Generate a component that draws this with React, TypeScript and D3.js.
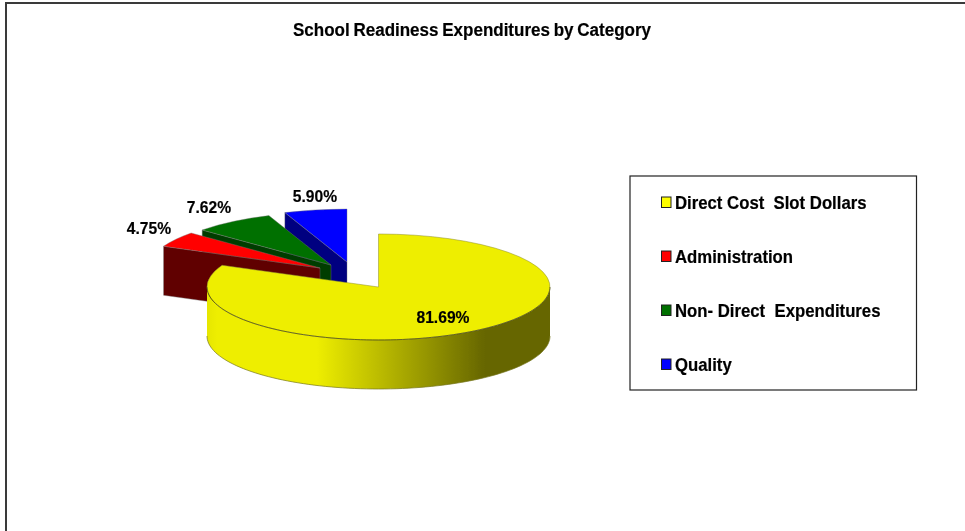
import * as d3 from "d3"

const categories = ["Direct Cost  Slot Dollars", "Administration", "Non- Direct  Expenditures", "Quality"]
const shares = [81.69, 4.75, 7.62, 5.9]
const topColors = ["#eeee00", "#ff0000", "#007000", "#0000ff"]
const legendColors = ["#ffff00", "#ff0000", "#007000", "#0000ff"]
const wallColors = ["#eeee00", "#600000", "#003c00", "#000080"]

// layout, not data
const W = 965, H = 531
const RX = 171.5, RY = 53, DEPTH = 49
const CX = 378.5, CY = 287
const explode: [number, number][] = [[0, 0], [-58.5, -19], [-47.5, -22], [-31.5, -25]]
const labelPos: [number, number][] = [[443, 317], [149, 228], [209, 207], [315, 196]]
const FONT = "'Liberation Sans', Arial, sans-serif"

const slices = d3.pie<number>().sort(null).startAngle(0).endAngle(2 * Math.PI)(shares)
const arc = d3.arc<d3.PieArcDatum<number>>().innerRadius(0).outerRadius(RX)
const px = (a: number) => RX * Math.sin(a)
const py = (a: number) => -RY * Math.cos(a)

// outer rim of the big slice, front half of the ellipse only
const rimAngles = d3.range(Math.PI / 2, (3 * Math.PI) / 2 + 0.001, Math.PI / 90)
const rim = d3.area<number>().x(a => CX + px(a)).y0(a => CY + py(a)).y1(a => CY + py(a) + DEPTH)(rimAngles)!
const rimEdge = d3.line<number>().x(a => CX + px(a)).y(a => CY + py(a))(rimAngles)!
const rimBottom = d3.line<number>().x(a => CX + px(a)).y(a => CY + py(a) + DEPTH)(rimAngles)!

const legendY = d3.scalePoint<string>().domain(categories).range([203, 365])

export default function App() {
  const order = [3, 2, 1]
  return (
    <svg width={W} height={H} viewBox={`0 0 ${W} ${H}`} style={{ position: "absolute", left: 0, top: 0, background: "#fff" }} fontFamily={FONT} fontWeight={700}>
      <defs>
        <linearGradient id="rimFill" gradientUnits="userSpaceOnUse" x1={CX - RX} x2={CX + RX} y1={0} y2={0}>
          <stop offset="0" stopColor="#e6e600" />
          <stop offset="0.03" stopColor="#eeee00" />
          <stop offset="0.32" stopColor="#eeee00" />
          <stop offset="0.81" stopColor="#666600" />
          <stop offset="1" stopColor="#666600" />
        </linearGradient>
        <filter id="soft" x="-5%" y="-5%" width="110%" height="110%">
          <feGaussianBlur stdDeviation="0.35" />
        </filter>
      </defs>
      <path d={`M6 ${H}V3H${W}`} fill="none" stroke="#3a3a3a" strokeWidth={2} />
      <g filter="url(#soft)">
        <text transform="translate(472,36) scale(0.945,1)" textAnchor="middle" fontSize={18} wordSpacing={-1} fill="#000" stroke="#000" strokeWidth={0.2}>
          School Readiness Expenditures by Category
        </text>
      </g>
      <g filter="url(#soft)">
        {order.map(i => {
          const s = slices[i]
          const [dx, dy] = explode[i]
          const ax = CX + dx, ay = CY + dy
          const wall = d3.line()([
            [ax + px(s.startAngle), ay + py(s.startAngle)],
            [ax, ay],
            [ax, ay + DEPTH],
            [ax + px(s.startAngle), ay + py(s.startAngle) + DEPTH],
          ]) + "Z"
          return (
            <g key={i}>
              <path d={wall} fill={wallColors[i]} stroke="#777" strokeWidth={0.4} />
              <g transform={`translate(${ax},${ay}) scale(1,${RY / RX})`}>
                <path d={arc(s)!} fill={topColors[i]} stroke="#777" strokeWidth={0.4} vectorEffect="non-scaling-stroke" />
              </g>
            </g>
          )
        })}
        <path d={rim} fill="url(#rimFill)" />
        <path d={rimBottom} fill="none" stroke="#77771f" strokeWidth={0.7} />
        <g transform={`translate(${CX},${CY}) scale(1,${RY / RX})`}>
          <path d={arc(slices[0])!} fill={topColors[0]} stroke="#8a8a30" strokeWidth={0.5} vectorEffect="non-scaling-stroke" />
        </g>
        <path d={rimEdge} fill="none" stroke="#444410" strokeWidth={0.7} />
      </g>
      <g filter="url(#soft)">
        {shares.map((v, i) => (
          <text key={i} transform={`translate(${labelPos[i][0]},${labelPos[i][1]}) scale(0.92,1)`} dy="0.36em" textAnchor="middle" fontSize={17} fill="#000" stroke="#000" strokeWidth={0.2}>
            {v.toFixed(2)}%
          </text>
        ))}
      </g>
      <rect x={630} y={176} width={286.5} height={214} fill="#fff" stroke="#222" strokeWidth={1.2} />
      <g filter="url(#soft)">
        {categories.map((c, i) => {
          const y = legendY(c)!
          return (
            <g key={c}>
              <rect x={661.5} y={y - 6} width={9.5} height={10.5} fill={legendColors[i]} stroke="#222" strokeWidth={1} />
              <text transform={`translate(675,${y}) scale(0.93,1)`} dy="0.36em" fontSize={18} style={{ whiteSpace: "pre" }} fill="#000" stroke="#000" strokeWidth={0.2}>
                {c}
              </text>
            </g>
          )
        })}
      </g>
    </svg>
  )
}
